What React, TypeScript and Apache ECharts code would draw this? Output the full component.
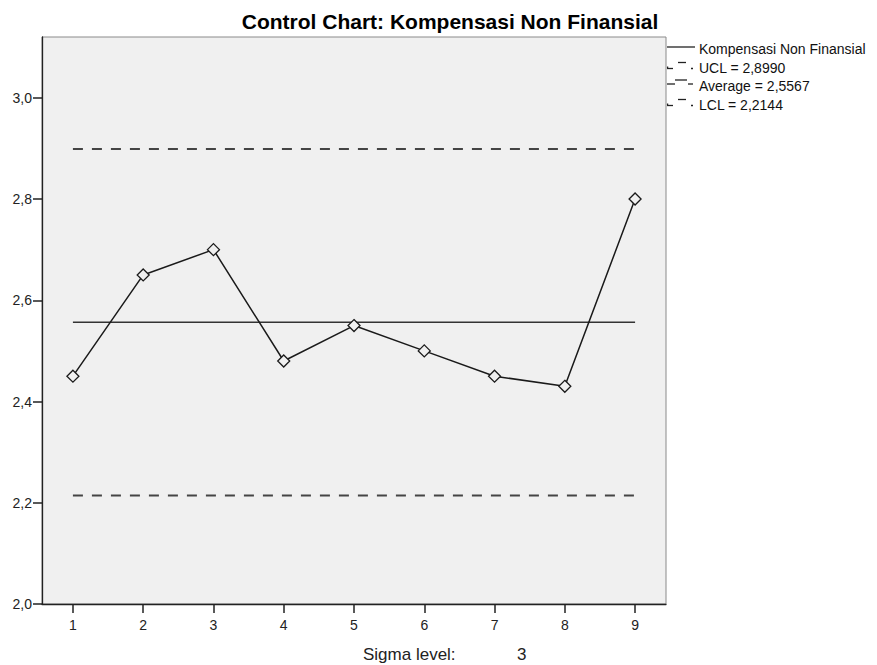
import React, { useEffect, useRef } from "react";
import * as echarts from "echarts";

const samples = [1, 2, 3, 4, 5, 6, 7, 8, 9];
const values = [2.45, 2.65, 2.7, 2.48, 2.55, 2.5, 2.45, 2.43, 2.8];
const ucl = 2.899;
const average = 2.5567;
const lcl = 2.2144;
const yMin = 2.0;
const yTicks = [2.0, 2.2, 2.4, 2.6, 2.8, 3.0];
const legendLabels = [
  "Kompensasi Non Finansial",
  "UCL = 2,8990",
  "Average = 2,5567",
  "LCL = 2,2144",
];
const titleText = "Control Chart: Kompensasi Non Finansial";
const sigmaLabel = "Sigma level:";
const sigmaValue = "3";

const FONT = "'Liberation Sans', Arial, sans-serif";

export default function App() {
  const ref = useRef<HTMLDivElement>(null);
  useEffect(() => {
    if (!ref.current) return;
    const chart = echarts.init(ref.current, null, { renderer: "svg" });
    const first = samples[0];
    const last = samples[samples.length - 1];
    const legendY = [49, 67.5, 86, 104.5];
    const lineStyle = { stroke: "#222", lineWidth: 1.3 };
    const legendGraphics: any[] = [];
    legendLabels.forEach((t, i) => {
      legendGraphics.push({
        type: "text",
        x: 699,
        y: legendY[i],
        style: {
          text: t,
          font: `14px ${FONT}`,
          fill: "#111",
          verticalAlign: "middle",
          textVerticalAlign: "middle",
        },
      });
    });
    const seg = (x1: number, y1: number, x2: number, y2: number) => ({
      type: "line",
      shape: { x1, y1, x2, y2 },
      style: lineStyle,
    });
    legendGraphics.push(seg(667, legendY[0] - 2, 695, legendY[0] - 2));
    [1, 3].forEach((i) => {
      const y = legendY[i];
      legendGraphics.push(seg(667, y + 1, 673, y + 1));
      legendGraphics.push(seg(667.6, y - 1, 667.6, y + 1));
      legendGraphics.push(seg(678, y - 5, 686, y - 5));
      legendGraphics.push(seg(691, y + 1, 693, y + 1));
    });
    {
      const y = legendY[2];
      legendGraphics.push(seg(667, y - 2, 675, y - 2));
      legendGraphics.push(seg(675, y - 6, 687, y - 6));
      legendGraphics.push(seg(688, y - 2, 693, y - 2));
    }

    const tickStyle = { color: "#222", width: 1.5 };

    chart.setOption({
      animation: false,
      backgroundColor: "#ffffff",
      title: {
        text: titleText,
        left: 445,
        textAlign: "center",
        top: 6,
        textStyle: { fontFamily: FONT, fontSize: 21, fontWeight: "bold", color: "#000" },
      },
      grid: {
        left: 42,
        top: 37,
        right: 211,
        bottom: 61,
        show: true,
        backgroundColor: "#f0f0f0",
        borderColor: "#8a8a8a",
        borderWidth: 1,
      },
      xAxis: {
        type: "value",
        min: 0.56,
        max: 9.44,
        splitLine: { show: false },
        axisLine: { show: true, lineStyle: { color: "#222", width: 1.3 } },
        axisTick: { show: true, inside: false, customValues: samples, length: 9, lineStyle: tickStyle },
        axisLabel: {
          customValues: samples,
          fontFamily: FONT,
          fontSize: 14,
          color: "#222",
          margin: 14,
        },
      },
      yAxis: {
        type: "value",
        min: yMin,
        max: 3.12,
        splitLine: { show: false },
        axisLine: { show: true, lineStyle: { color: "#222", width: 1.3 } },
        axisTick: { show: true, inside: false, customValues: yTicks, length: 9, lineStyle: tickStyle },
        axisLabel: {
          customValues: yTicks,
          formatter: (v: number) => v.toFixed(1).replace(".", ","),
          fontFamily: FONT,
          fontSize: 14,
          color: "#222",
          margin: 10,
        },
      },
      graphic: [
        ...legendGraphics,
        {
          type: "text",
          x: 363,
          y: 654,
          style: {
            text: sigmaLabel,
            font: `17px ${FONT}`,
            fill: "#222",
            verticalAlign: "middle",
            textVerticalAlign: "middle",
          },
        },
        {
          type: "text",
          x: 517,
          y: 654,
          style: {
            text: sigmaValue,
            font: `17px ${FONT}`,
            fill: "#222",
            verticalAlign: "middle",
            textVerticalAlign: "middle",
          },
        },
      ],
      series: [
        {
          name: "UCL",
          type: "line",
          data: [[first, ucl], [last, ucl]],
          symbol: "none",
          lineStyle: { color: "#444", width: 2, type: [10, 9] },
          z: 2,
        },
        {
          name: "Average",
          type: "line",
          data: [[first, average], [last, average]],
          symbol: "none",
          lineStyle: { color: "#333", width: 1.5 },
          z: 2,
        },
        {
          name: "LCL",
          type: "line",
          data: [[first, lcl], [last, lcl]],
          symbol: "none",
          lineStyle: { color: "#444", width: 2, type: [10, 9] },
          z: 2,
        },
        {
          name: "Kompensasi Non Finansial",
          type: "line",
          data: samples.map((s, i) => [s, values[i]]),
          symbol: "diamond",
          symbolSize: [12, 12],
          lineStyle: { color: "#1a1a1a", width: 1.5 },
          itemStyle: { color: "#f0f0f0", borderColor: "#1a1a1a", borderWidth: 1.3 },
          z: 3,
        },
      ],
    });
    return () => chart.dispose();
  }, []);
  return (
    <div
      ref={ref}
      style={{ width: 877, height: 665, position: "absolute", left: 0, top: 0 }}
    />
  );
}
